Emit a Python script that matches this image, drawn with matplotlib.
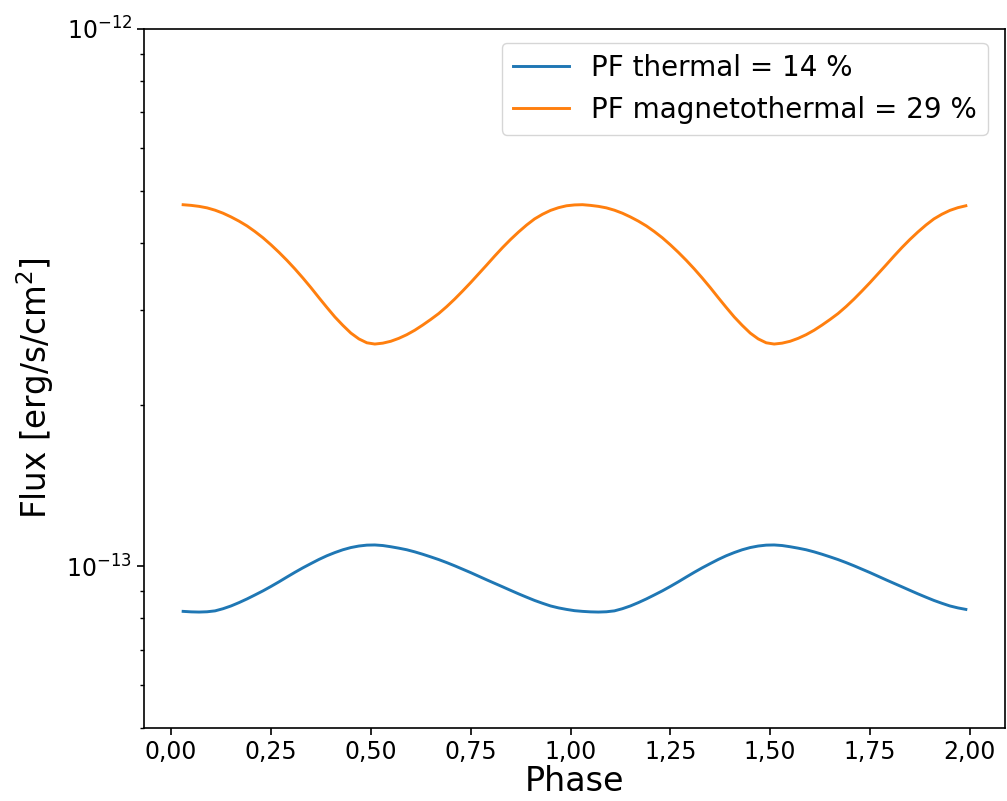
import matplotlib
matplotlib.use("Agg")
import matplotlib.pyplot as plt
import numpy as np

# Rotational phase (two full cycles), sampled every 0.02
phase = np.round(np.arange(0.03, 2.0, 0.02), 2)

# Flux, thermal model [erg/s/cm^2]
flux_thermal = [
    8.243e-14, 8.226e-14, 8.219e-14, 8.229e-14, 8.261e-14, 8.338e-14, 8.437e-14, 8.559e-14, 8.695e-14,
    8.845e-14, 9.001e-14, 9.173e-14, 9.356e-14, 9.551e-14, 9.746e-14, 9.936e-14, 1.0117e-13, 1.0297e-13, 1.0462e-13,
    1.0606e-13, 1.0734e-13, 1.0836e-13, 1.0907e-13, 1.0949e-13, 1.0957e-13, 1.0930e-13, 1.0874e-13, 1.0808e-13, 1.0734e-13,
    1.0638e-13, 1.0529e-13, 1.0412e-13, 1.0292e-13, 1.0160e-13, 1.0021e-13, 9.876e-14, 9.733e-14, 9.584e-14, 9.437e-14,
    9.296e-14, 9.158e-14, 9.020e-14, 8.886e-14, 8.760e-14, 8.639e-14, 8.534e-14, 8.437e-14, 8.367e-14, 8.313e-14,
    8.268e-14, 8.243e-14, 8.226e-14, 8.219e-14, 8.229e-14, 8.261e-14, 8.338e-14, 8.437e-14, 8.559e-14, 8.695e-14,
    8.845e-14, 9.001e-14, 9.173e-14, 9.356e-14, 9.551e-14, 9.746e-14, 9.936e-14, 1.0117e-13, 1.0297e-13, 1.0462e-13,
    1.0606e-13, 1.0734e-13, 1.0836e-13, 1.0907e-13, 1.0949e-13, 1.0957e-13, 1.0930e-13, 1.0874e-13, 1.0808e-13, 1.0734e-13,
    1.0638e-13, 1.0529e-13, 1.0412e-13, 1.0292e-13, 1.0160e-13, 1.0021e-13, 9.876e-14, 9.733e-14, 9.584e-14, 9.437e-14,
    9.296e-14, 9.158e-14, 9.020e-14, 8.886e-14, 8.760e-14, 8.639e-14, 8.534e-14, 8.437e-14, 8.367e-14, 8.313e-14,
]

# Flux, magnetothermal model [erg/s/cm^2]
flux_magnetothermal = [
    4.709e-13, 4.696e-13, 4.676e-13, 4.646e-13, 4.600e-13, 4.541e-13, 4.469e-13, 4.389e-13, 4.300e-13,
    4.197e-13, 4.087e-13, 3.966e-13, 3.840e-13, 3.710e-13, 3.576e-13, 3.439e-13, 3.301e-13, 3.162e-13, 3.032e-13,
    2.911e-13, 2.808e-13, 2.717e-13, 2.650e-13, 2.606e-13, 2.592e-13, 2.602e-13, 2.623e-13, 2.656e-13, 2.698e-13,
    2.750e-13, 2.812e-13, 2.880e-13, 2.954e-13, 3.043e-13, 3.143e-13, 3.254e-13, 3.373e-13, 3.502e-13, 3.636e-13,
    3.778e-13, 3.920e-13, 4.058e-13, 4.190e-13, 4.316e-13, 4.431e-13, 4.521e-13, 4.596e-13, 4.650e-13, 4.688e-13,
    4.705e-13, 4.710e-13, 4.696e-13, 4.676e-13, 4.646e-13, 4.600e-13, 4.541e-13, 4.469e-13, 4.389e-13, 4.300e-13,
    4.197e-13, 4.087e-13, 3.966e-13, 3.840e-13, 3.710e-13, 3.576e-13, 3.439e-13, 3.301e-13, 3.162e-13, 3.032e-13,
    2.911e-13, 2.808e-13, 2.717e-13, 2.650e-13, 2.606e-13, 2.592e-13, 2.602e-13, 2.623e-13, 2.656e-13, 2.698e-13,
    2.750e-13, 2.812e-13, 2.880e-13, 2.954e-13, 3.043e-13, 3.143e-13, 3.254e-13, 3.373e-13, 3.502e-13, 3.636e-13,
    3.778e-13, 3.920e-13, 4.058e-13, 4.190e-13, 4.316e-13, 4.431e-13, 4.521e-13, 4.596e-13, 4.650e-13, 4.688e-13,
]

labels = ["PF thermal = 14 %", "PF magnetothermal = 29 %"]

x_ticks = [0.0, 0.25, 0.5, 0.75, 1.0, 1.25, 1.5, 1.75, 2.0]
x_ticklabels = ["0,00", "0,25", "0,50", "0,75", "1,00", "1,25", "1,50", "1,75", "2,00"]

fig = plt.figure(figsize=(10.07, 8.01), dpi=100)
ax = fig.add_axes([0.1430, 0.0911, 0.8550, 0.8727])

ax.plot(phase, flux_thermal, color="#1f77b4", lw=2.1, label=labels[0])
ax.plot(phase, flux_magnetothermal, color="#ff7f0e", lw=2.1, label=labels[1])

ax.set_yscale("log")
ax.set_ylim(5e-14, 1e-12)
ax.set_xticks(x_ticks)
ax.set_xticklabels(x_ticklabels)

ax.tick_params(axis="both", which="major", labelsize=17, length=5, width=1.2)
ax.tick_params(axis="y", which="minor", length=3, width=1.0)
for s in ax.spines.values():
    s.set_linewidth(1.2)

ax.set_xlabel("Phase", fontsize=24, labelpad=1)
ax.set_ylabel("Flux [erg/s/cm$^2$]", fontsize=23.5)
ax.yaxis.set_label_coords(-0.102, 0.486)

ax.legend(loc="upper right", bbox_to_anchor=(0.996, 1.0), fontsize=20)

fig.savefig("out.png", dpi=100)
